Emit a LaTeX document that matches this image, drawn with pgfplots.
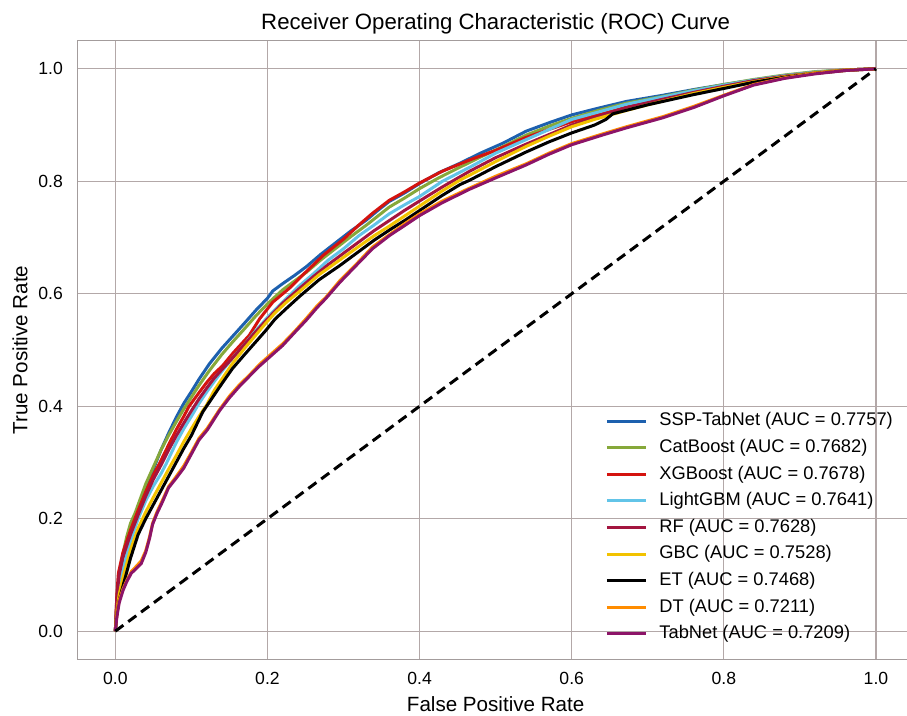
\documentclass[border=0pt]{standalone}
\usepackage{fontspec}
\setmainfont{Liberation Sans}
\usepackage{pgfplots}
\pgfplotsset{compat=1.18}

\definecolor{cssp}{HTML}{1D60AE}
\definecolor{ccat}{HTML}{86A83A}
\definecolor{cxgb}{HTML}{D4130F}
\definecolor{clgb}{HTML}{62C4E8}
\definecolor{crf}{HTML}{A3153F}
\definecolor{cgbc}{HTML}{F2C200}
\definecolor{cdt}{HTML}{FF8C00}
\definecolor{ctab}{HTML}{8C1468}
\definecolor{cgrid}{HTML}{B3A8A8}
\definecolor{cspine}{HTML}{A39C9C}

\begin{document}
\begin{tikzpicture}
\begin{axis}[
    at={(38.65pt,28.35pt)}, anchor=south west,
    scale only axis,
    width=418.35pt, height=309.3pt,
    xmin=-0.05, xmax=1.05,
    ymin=-0.05, ymax=1.05,
    xtick={0,0.2,...,1.0}, ytick={0,0.2,...,1.0},
    xticklabels={0.0,0.2,0.4,0.6,0.8,1.0},
    yticklabels={0.0,0.2,0.4,0.6,0.8,1.0},
    major tick length=0pt,
    grid=major,
    grid style={cgrid, line width=0.65pt},
    axis line style={cspine, line width=0.75pt},
    tick label style={font=\fontsize{8.8}{10}\selectfont},
    /pgf/number format/assume math mode=true,
    xticklabel style={anchor=base, inner sep=0pt, yshift=-12.5pt},
    yticklabel style={anchor=east, inner sep=0pt, xshift=-7pt},
    every axis title shift=0pt,
    title={Receiver Operating Characteristic (ROC) Curve},
    title style={at={(axis description cs:0.5,1.0173)}, anchor=base, font=\fontsize{11.1}{13}\selectfont},
    xlabel={False Positive Rate},
    xlabel style={at={(axis description cs:0.5,-0.0841)}, anchor=base, font=\fontsize{10.3}{12}\selectfont},
    ylabel={True Positive Rate},
    ylabel style={at={(axis description cs:-0.0598,0.5)}, anchor=base, font=\fontsize{10.3}{12}\selectfont},
    legend image code/.code={\draw[#1] (0pt,0pt) -- (19.5pt,0pt);},
    legend cell align=left,
    legend style={at={(axis description cs:0.6307,0.3998)}, anchor=north west,
        draw=none, fill=none, inner sep=0pt,
        font=\fontsize{9.15}{11}\selectfont,
        nodes={inner sep=0pt, text height=6.8pt, text depth=2pt},
        row sep=4.5pt, column sep=6pt},
    every axis plot/.append style={line width=1.5pt, line join=round},
]

% SSP-TabNet
\addplot[cssp] coordinates {
(0,0) (0.002,0.05) (0.005,0.09) (0.01,0.13) (0.015,0.16) (0.02,0.185) (0.026,0.2) (0.03,0.215)
(0.04,0.255) (0.05,0.288) (0.06,0.322) (0.07,0.352) (0.08,0.38) (0.09,0.405) (0.1,0.426) (0.11,0.448)
(0.124,0.476) (0.14,0.503) (0.154,0.524) (0.17,0.548) (0.185,0.571) (0.2,0.592) (0.207,0.605) (0.22,0.618)
(0.235,0.632) (0.251,0.648) (0.27,0.67) (0.289,0.69) (0.31,0.712) (0.33,0.731) (0.345,0.748) (0.36,0.764)
(0.38,0.779) (0.4,0.796) (0.425,0.815) (0.453,0.832) (0.48,0.85) (0.51,0.868) (0.54,0.889) (0.57,0.904)
(0.6,0.918) (0.635,0.93) (0.672,0.942) (0.72,0.953) (0.76,0.963) (0.8,0.972) (0.839,0.98) (0.88,0.988)
(0.92,0.994) (0.96,0.998) (1,1)};
\addlegendentry{SSP-TabNet (AUC = 0.7757)}

% CatBoost
\addplot[ccat] coordinates {
(0,0) (0.002,0.055) (0.005,0.095) (0.01,0.138) (0.015,0.168) (0.02,0.192) (0.026,0.21) (0.03,0.225)
(0.04,0.262) (0.05,0.292) (0.06,0.322) (0.07,0.348) (0.08,0.372) (0.09,0.395) (0.1,0.416) (0.11,0.437)
(0.124,0.464) (0.14,0.492) (0.154,0.514) (0.17,0.538) (0.185,0.561) (0.2,0.582) (0.22,0.607) (0.235,0.622)
(0.251,0.638) (0.27,0.66) (0.289,0.68) (0.31,0.702) (0.33,0.722) (0.345,0.738) (0.36,0.754) (0.38,0.77)
(0.4,0.787) (0.425,0.806) (0.453,0.825) (0.48,0.843) (0.51,0.862) (0.54,0.882) (0.57,0.898) (0.6,0.912)
(0.635,0.926) (0.672,0.939) (0.72,0.951) (0.76,0.962) (0.8,0.972) (0.839,0.981) (0.88,0.989) (0.92,0.995)
(0.96,0.998) (1,1)};
\addlegendentry{CatBoost (AUC = 0.7682)}

% XGBoost
\addplot[cxgb] coordinates {
(0,0) (0.002,0.065) (0.004,0.103) (0.01,0.14) (0.02,0.18) (0.03,0.215) (0.04,0.248) (0.05,0.278)
(0.058,0.298) (0.071,0.334) (0.08,0.358) (0.09,0.382) (0.097,0.4) (0.11,0.424) (0.12,0.442) (0.13,0.458)
(0.141,0.472) (0.155,0.495) (0.176,0.526) (0.19,0.556) (0.207,0.585) (0.229,0.61) (0.25,0.638) (0.273,0.668)
(0.3,0.697) (0.32,0.722) (0.338,0.743) (0.36,0.766) (0.38,0.781) (0.4,0.797) (0.43,0.818) (0.466,0.838)
(0.5,0.855) (0.54,0.878) (0.6,0.906) (0.64,0.92) (0.672,0.932) (0.72,0.947) (0.76,0.959) (0.8,0.969)
(0.839,0.979) (0.88,0.987) (0.92,0.993) (0.96,0.998) (1,1)};
\addlegendentry{XGBoost (AUC = 0.7678)}

% LightGBM
\addplot[clgb] coordinates {
(0,0) (0.002,0.04) (0.005,0.075) (0.01,0.11) (0.02,0.16) (0.03,0.2) (0.04,0.232) (0.05,0.258)
(0.06,0.28) (0.067,0.298) (0.08,0.335) (0.09,0.36) (0.1,0.382) (0.11,0.405) (0.12,0.425) (0.13,0.444)
(0.14,0.462) (0.155,0.487) (0.17,0.51) (0.185,0.535) (0.2,0.558) (0.22,0.585) (0.24,0.612) (0.26,0.635)
(0.28,0.66) (0.3,0.68) (0.32,0.703) (0.34,0.722) (0.36,0.742) (0.38,0.758) (0.4,0.773) (0.43,0.8)
(0.466,0.825) (0.5,0.85) (0.54,0.874) (0.6,0.91) (0.64,0.925) (0.672,0.937) (0.72,0.95) (0.76,0.961)
(0.8,0.971) (0.839,0.98) (0.88,0.988) (0.92,0.994) (0.96,0.998) (1,1)};
\addlegendentry{LightGBM (AUC = 0.7641)}

% RF
\addplot[crf] coordinates {
(0,0) (0.002,0.06) (0.005,0.1) (0.01,0.132) (0.02,0.172) (0.03,0.207) (0.04,0.24) (0.05,0.27)
(0.06,0.295) (0.07,0.322) (0.08,0.347) (0.09,0.37) (0.1,0.392) (0.11,0.413) (0.12,0.432) (0.13,0.45)
(0.14,0.465) (0.155,0.487) (0.17,0.51) (0.185,0.533) (0.2,0.555) (0.22,0.583) (0.24,0.607) (0.26,0.63)
(0.28,0.652) (0.3,0.672) (0.32,0.692) (0.34,0.712) (0.36,0.73) (0.38,0.748) (0.4,0.765) (0.43,0.79)
(0.466,0.818) (0.5,0.842) (0.54,0.866) (0.6,0.9) (0.64,0.918) (0.672,0.931) (0.72,0.946) (0.76,0.958)
(0.8,0.969) (0.839,0.979) (0.88,0.987) (0.92,0.993) (0.96,0.998) (1,1)};
\addlegendentry{RF (AUC = 0.7628)}

% GBC
\addplot[cgbc] coordinates {
(0,0) (0.002,0.035) (0.005,0.065) (0.01,0.095) (0.02,0.145) (0.03,0.183) (0.04,0.212) (0.05,0.238)
(0.06,0.263) (0.07,0.288) (0.08,0.312) (0.09,0.337) (0.1,0.36) (0.11,0.382) (0.12,0.402) (0.13,0.428)
(0.14,0.448) (0.154,0.476) (0.17,0.503) (0.185,0.527) (0.198,0.548) (0.21,0.566) (0.225,0.585) (0.242,0.604)
(0.268,0.634) (0.295,0.66) (0.32,0.684) (0.34,0.703) (0.36,0.72) (0.38,0.738) (0.4,0.756) (0.43,0.783)
(0.453,0.802) (0.466,0.811) (0.5,0.835) (0.54,0.862) (0.57,0.88) (0.6,0.897) (0.63,0.91) (0.672,0.926)
(0.7,0.936) (0.76,0.956) (0.8,0.967) (0.839,0.977) (0.88,0.986) (0.92,0.993) (0.96,0.998) (1,1)};
\addlegendentry{GBC (AUC = 0.7528)}

% ET
\addplot[black] coordinates {
(0,0) (0.002,0.03) (0.005,0.055) (0.01,0.08) (0.014,0.1) (0.02,0.13) (0.03,0.172) (0.04,0.2)
(0.05,0.225) (0.06,0.25) (0.07,0.275) (0.08,0.3) (0.09,0.325) (0.1,0.348) (0.115,0.39) (0.13,0.42)
(0.14,0.44) (0.154,0.467) (0.17,0.492) (0.185,0.515) (0.198,0.535) (0.21,0.555) (0.225,0.574) (0.242,0.595)
(0.268,0.625) (0.295,0.65) (0.32,0.675) (0.34,0.695) (0.36,0.713) (0.38,0.73) (0.4,0.748) (0.43,0.775)
(0.453,0.794) (0.466,0.802) (0.5,0.826) (0.54,0.852) (0.57,0.87) (0.6,0.886) (0.63,0.9) (0.645,0.91)
(0.654,0.92) (0.7,0.936) (0.76,0.954) (0.8,0.965) (0.839,0.976) (0.88,0.985) (0.92,0.992) (0.96,0.997) (1,1)};
\addlegendentry{ET (AUC = 0.7468)}

% DT
\addplot[cdt] coordinates {
(0,0) (0.002,0.03) (0.005,0.055) (0.01,0.075) (0.015,0.09) (0.021,0.106) (0.028,0.116) (0.034,0.125)
(0.04,0.143) (0.045,0.168) (0.049,0.192) (0.055,0.213) (0.062,0.233) (0.07,0.257) (0.08,0.275) (0.09,0.294)
(0.1,0.318) (0.11,0.343) (0.121,0.361) (0.137,0.394) (0.15,0.418) (0.163,0.438) (0.176,0.455) (0.19,0.475)
(0.205,0.493) (0.22,0.511) (0.235,0.532) (0.251,0.556) (0.265,0.578) (0.277,0.594) (0.295,0.623) (0.315,0.65)
(0.338,0.683) (0.36,0.705) (0.38,0.724) (0.4,0.742) (0.43,0.765) (0.466,0.788) (0.5,0.809) (0.54,0.831)
(0.57,0.85) (0.6,0.867) (0.64,0.884) (0.672,0.897) (0.72,0.915) (0.76,0.933) (0.8,0.953) (0.839,0.972)
(0.88,0.984) (0.92,0.992) (0.96,0.997) (1,1)};
\addlegendentry{DT (AUC = 0.7211)}

% TabNet
\addplot[ctab] coordinates {
(0,0) (0.002,0.025) (0.005,0.05) (0.01,0.072) (0.015,0.088) (0.021,0.103) (0.028,0.112) (0.034,0.12)
(0.04,0.14) (0.045,0.165) (0.049,0.19) (0.055,0.21) (0.062,0.23) (0.07,0.255) (0.08,0.272) (0.09,0.29)
(0.1,0.315) (0.11,0.34) (0.121,0.358) (0.137,0.392) (0.15,0.415) (0.163,0.435) (0.176,0.453) (0.19,0.472)
(0.205,0.49) (0.22,0.508) (0.235,0.53) (0.251,0.553) (0.265,0.575) (0.277,0.592) (0.295,0.62) (0.315,0.648)
(0.338,0.68) (0.36,0.703) (0.38,0.721) (0.4,0.739) (0.43,0.762) (0.466,0.786) (0.5,0.806) (0.54,0.829)
(0.57,0.848) (0.6,0.865) (0.64,0.882) (0.672,0.895) (0.72,0.913) (0.76,0.931) (0.8,0.952) (0.839,0.971)
(0.88,0.983) (0.92,0.991) (0.96,0.997) (1,1)};
\addlegendentry{TabNet (AUC = 0.7209)}

% Zufallsdiagonale
\addplot[black, line width=1.5pt, dash pattern=on 5pt off 3pt, forget plot] coordinates {(0,0) (1,1)};

\end{axis}
\pgfresetboundingbox
\useasboundingbox (0,0) rectangle (453.5pt,358pt);
\end{tikzpicture}
\end{document}
